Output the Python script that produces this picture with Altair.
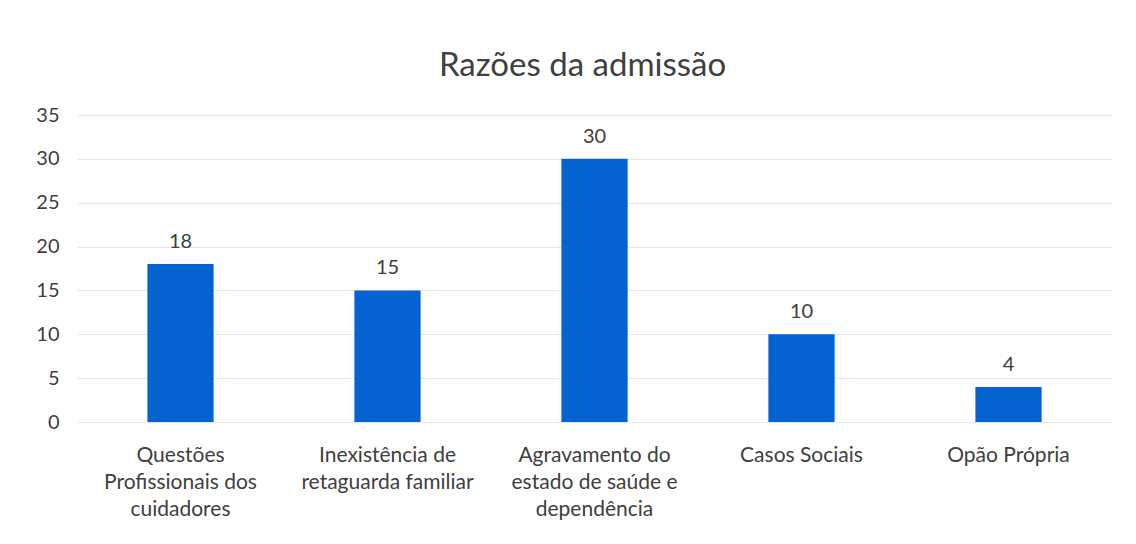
import altair as alt
import pandas as pd

categories = [
    "Questões\nProfissionais dos\ncuidadores",
    "Inexistência de\nretaguarda familiar",
    "Agravamento do\nestado de saúde  e\ndependência",
    "Casos Sociais",
    "Opão Própria",
]
values = [18, 15, 30, 10, 4]
y_ticks = [0, 5, 10, 15, 20, 25, 30, 35]

df = pd.DataFrame({"cat": categories, "val": values})

FONT = "Lato"
TXT = "#404040"

x = alt.X(
    "cat:N",
    sort=categories,
    title=None,
    scale=alt.Scale(paddingInner=0.68, paddingOuter=0.34),
    axis=alt.Axis(
        labelAngle=0,
        labelExpr="split(datum.label, '\\n')",
        labelFontSize=21,
        labelFont=FONT,
        labelColor=TXT,
        labelLineHeight=27,
        labelPadding=22,
        domain=False,
        ticks=False,
        grid=False,
        labelLimit=300,
    ),
)
y = alt.Y(
    "val:Q",
    title=None,
    scale=alt.Scale(domain=[0, 35], nice=False),
    axis=alt.Axis(
        values=y_ticks,
        labelFontSize=20,
        labelFont=FONT,
        labelColor=TXT,
        labelPadding=18,
        domain=False,
        ticks=False,
        gridColor="#e6e6e6",
        gridWidth=1,
    ),
)

bars = alt.Chart(df).mark_bar(color="#0563d1").encode(x=x, y=y)
labels = alt.Chart(df).mark_text(
    baseline="bottom", dy=-12, fontSize=20, font=FONT, color=TXT
).encode(x=alt.X("cat:N", sort=categories), y="val:Q", text="val:Q")

chart = (
    alt.layer(bars, labels)
    .properties(
        width=1035,
        height=307,
        background="white",
        title=alt.TitleParams(
            "Razões da admissão",
            fontSize=33,
            font=FONT,
            fontWeight="normal",
            color=TXT,
            anchor="middle",
            offset=22,
            dx=-12,
        ),
        autosize=alt.AutoSizeParams(type="none"),
        padding={"left": 69, "top": 107, "right": 16, "bottom": 110},
    )
    .configure_view(strokeWidth=0)
)

chart.save("out.html", embed_options={"renderer": "svg", "actions": False})
